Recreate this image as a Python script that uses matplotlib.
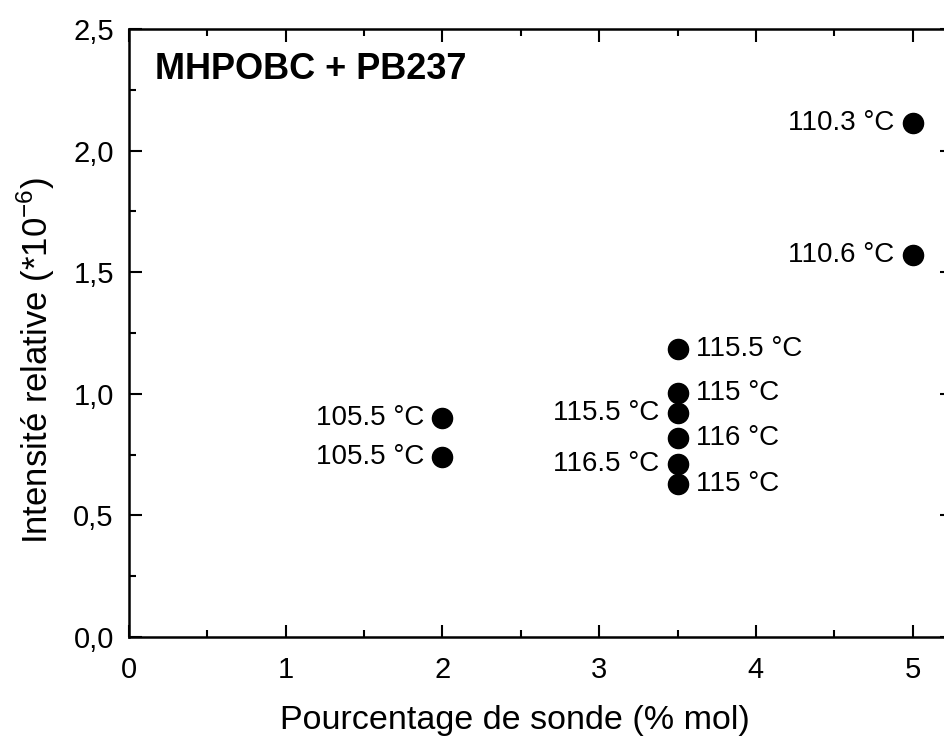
import matplotlib
matplotlib.use("Agg")
import matplotlib.pyplot as plt
from matplotlib.ticker import MultipleLocator, FixedLocator, FixedFormatter

plt.rcParams['font.family'] = ['Liberation Sans', 'DejaVu Sans']

x_vals = [2, 2, 3.5, 3.5, 3.5, 3.5, 3.5, 3.5, 5, 5]
y_vals = [0.90, 0.74, 1.185, 1.005, 0.92, 0.82, 0.71, 0.63, 2.115, 1.57]
labels = ["105.5 °C", "105.5 °C", "115.5 °C", "115 °C", "115.5 °C", "116 °C",
          "116.5 °C", "115 °C", "110.3 °C", "110.6 °C"]
label_side = ["left", "left", "right", "right", "left", "right", "left", "right", "left", "left"]

x_ticks = [0, 1, 2, 3, 4, 5]
x_ticklabels = ["0", "1", "2", "3", "4", "5"]
y_ticks = [0.0, 0.5, 1.0, 1.5, 2.0, 2.5]
y_ticklabels = ["0,0", "0,5", "1,0", "1,5", "2,0", "2,5"]

fig = plt.figure(figsize=(9.44, 7.42), dpi=100)
ax = fig.add_axes([0.1367, 0.1415, 0.8715, 0.8194])
ax.plot(x_vals, y_vals, 'o', color='black', markersize=14.5, linestyle='none')

for x, y, t, s in zip(x_vals, y_vals, labels, label_side):
    if s == "left":
        ax.annotate(t, (x, y), xytext=(-13, 0), textcoords='offset points',
                    ha='right', va='center', fontsize=20)
    else:
        ax.annotate(t, (x, y), xytext=(13, 0), textcoords='offset points',
                    ha='left', va='center', fontsize=20)

ax.set_xlim(0, 5.25)
ax.set_ylim(0, 2.5)
ax.xaxis.set_major_locator(FixedLocator(x_ticks))
ax.xaxis.set_major_formatter(FixedFormatter(x_ticklabels))
ax.yaxis.set_major_locator(FixedLocator(y_ticks))
ax.yaxis.set_major_formatter(FixedFormatter(y_ticklabels))
ax.xaxis.set_minor_locator(MultipleLocator(0.5))
ax.yaxis.set_minor_locator(MultipleLocator(0.25))
ax.tick_params(which='both', direction='in', top=True, right=True, labelsize=21, width=1.5)
ax.tick_params(which='major', length=9)
ax.tick_params(which='minor', length=5)
ax.tick_params(axis='x', pad=14)
ax.tick_params(axis='y', pad=11)
for sp in ax.spines.values():
    sp.set_linewidth(1.8)

ax.set_xlabel("Pourcentage de sonde (% mol)", fontsize=24.5)
ax.xaxis.set_label_coords(0.469, -0.112)
ax.set_ylabel("Intensité relative (*10$^{\\mathregular{-6}}$)", fontsize=25)
ax.yaxis.set_label_coords(-0.088, 0.455)
ax.text(0.032, 0.933, "MHPOBC + PB237", transform=ax.transAxes, fontsize=26,
        fontweight='bold', va='center', ha='left')

fig.savefig("out.png", dpi=100)
